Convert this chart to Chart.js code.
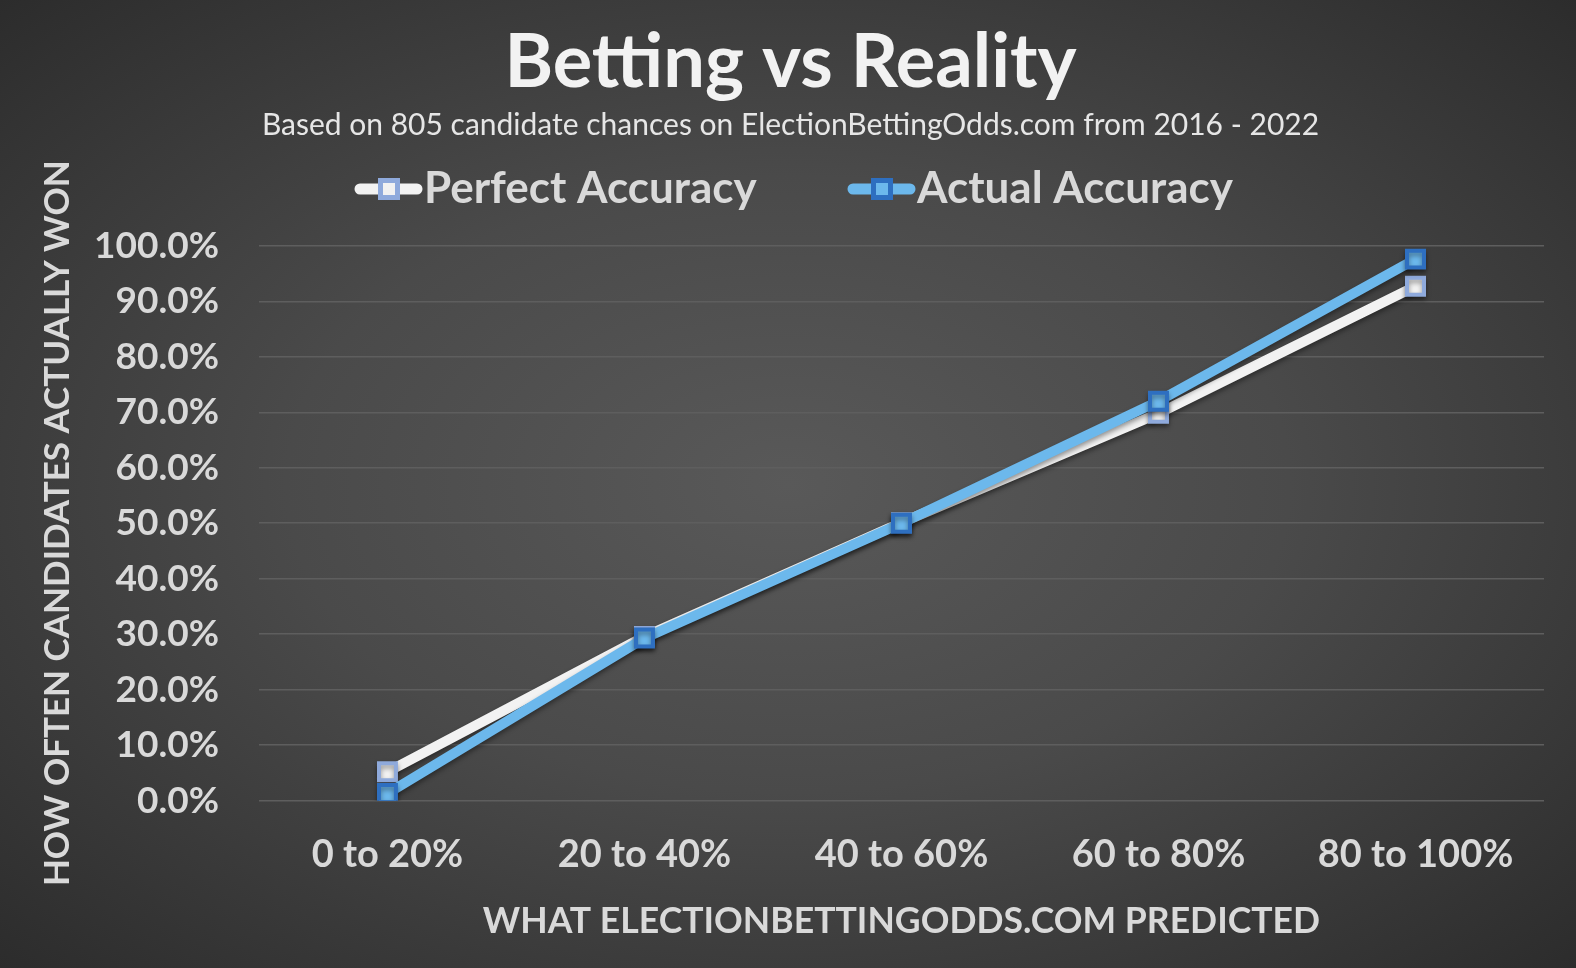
<!DOCTYPE html>
<html lang="en">
<head>
  <meta charset="UTF-8">
  <title>Betting vs Reality</title>
  <script src="https://cdn.jsdelivr.net/npm/chart.js"></script>
  <style>
    html, body {
      margin: 0;
      width: 1576px;
      height: 968px;
      overflow: hidden;
      background: radial-gradient(ellipse at 50% 50%, #595959 0%, #4a4a4a 45%, #2c2c2c 100%);
    }
    #wrap { width: 1576px; height: 968px; }
  </style>
</head>
<body>
  <div id="wrap"><canvas id="accChart"></canvas></div>

  <script>
    const categories = ['0 to 20%', '20 to 40%', '40 to 60%', '60 to 80%', '80 to 100%'];
    const perfectAccuracy = [5.2, 29.6, 50.1, 69.8, 92.7];
    const actualAccuracy = [1.3, 29.3, 50.0, 72.0, 97.6];

    const FONT = "Lato, 'Open Sans', sans-serif";
    const TEXT = '#d9d9d9';

    // legend drawn as line + square marker, like the spreadsheet original
    const lineLegend = {
      id: 'lineLegend',
      afterDraw(chart) {
        const ctx = chart.ctx;
        const y = 189;
        const starts = [355, 848];
        ctx.save();
        ctx.font = "bold 44px " + FONT;
        ctx.textBaseline = 'middle';
        chart.data.datasets.forEach((ds, i) => {
          const x = starts[i];
          ctx.strokeStyle = ds.borderColor;
          ctx.lineWidth = 11;
          ctx.lineCap = 'round';
          ctx.beginPath();
          ctx.moveTo(x + 5, y);
          ctx.lineTo(x + 62, y);
          ctx.stroke();
          ctx.fillStyle = ds.pointBorderColor;
          ctx.fillRect(x + 23, y - 11, 22, 22);
          ctx.fillStyle = ds.pointBackgroundColor;
          ctx.fillRect(x + 28, y - 6, 12, 12);
          ctx.fillStyle = TEXT;
          ctx.fillText(ds.label, x + 69, y);
        });
        ctx.restore();
      }
    };

    const lineShadow = {
      id: 'lineShadow',
      beforeDatasetsDraw(chart) {
        const ctx = chart.ctx;
        ctx.save();
        ctx.shadowColor = 'rgba(0,0,0,0.4)';
        ctx.shadowBlur = 5;
        ctx.shadowOffsetY = 3;
      },
      afterDatasetsDraw(chart) {
        chart.ctx.restore();
      }
    };

    new Chart(document.getElementById('accChart'), {
      type: 'line',
      data: {
        labels: categories,
        datasets: [
          {
            label: 'Perfect Accuracy',
            data: perfectAccuracy,
            borderColor: '#f2f2f2',
            borderWidth: 10,
            pointStyle: 'rect',
            pointRadius: 12,
            pointBackgroundColor: '#f2f2f2',
            pointBorderColor: '#8faadc',
            pointBorderWidth: 4,
            tension: 0,
            order: 2
          },
          {
            label: 'Actual Accuracy',
            data: actualAccuracy,
            borderColor: '#6cb8ec',
            borderWidth: 10,
            pointStyle: 'rect',
            pointRadius: 12,
            pointBackgroundColor: '#6cb8ec',
            pointBorderColor: '#2e6fc0',
            pointBorderWidth: 4,
            tension: 0,
            order: 1
          }
        ]
      },
      options: {
        responsive: true,
        maintainAspectRatio: false,
        animation: false,
        layout: { padding: { left: 37, right: 32, top: 0, bottom: 25 } },
        plugins: {
          legend: { display: false },
          tooltip: { enabled: false },
          title: {
            display: true,
            text: 'Betting vs Reality',
            color: '#f2f2f2',
            font: { family: FONT, size: 74, weight: 'bold' },
            padding: { top: 19, bottom: 0 }
          },
          subtitle: {
            display: true,
            text: 'Based on 805 candidate chances on ElectionBettingOdds.com from 2016 - 2022',
            color: '#e6e6e6',
            font: { family: FONT, size: 30 },
            padding: { top: 0, bottom: 102 }
          }
        },
        scales: {
          x: {
            offset: true,
            grid: { display: false },
            border: { display: false },
            ticks: {
              color: TEXT,
              font: { family: FONT, size: 38, weight: 'bold' },
              padding: 23
            },
            title: {
              display: true,
              text: 'WHAT ELECTIONBETTINGODDS.COM PREDICTED',
              color: TEXT,
              font: { family: FONT, size: 35.6, weight: 'bold' },
              padding: { top: 0, bottom: 0 }
            }
          },
          y: {
            min: 0,
            max: 100,
            grid: { color: '#5e5e5e', lineWidth: 1.5, drawTicks: false },
            border: { display: false },
            ticks: {
              stepSize: 10,
              color: TEXT,
              padding: 40,
              font: { family: FONT, size: 37, weight: 'bold' },
              callback: v => v.toFixed(1) + '%'
            },
            title: {
              display: true,
              text: 'HOW OFTEN CANDIDATES ACTUALLY WON',
              color: TEXT,
              font: { family: FONT, size: 35, weight: 'bold' },
              padding: { top: 0, bottom: -25 }
            }
          }
        }
      },
      plugins: [lineShadow, lineLegend]
    });
  </script>
</body>
</html>
